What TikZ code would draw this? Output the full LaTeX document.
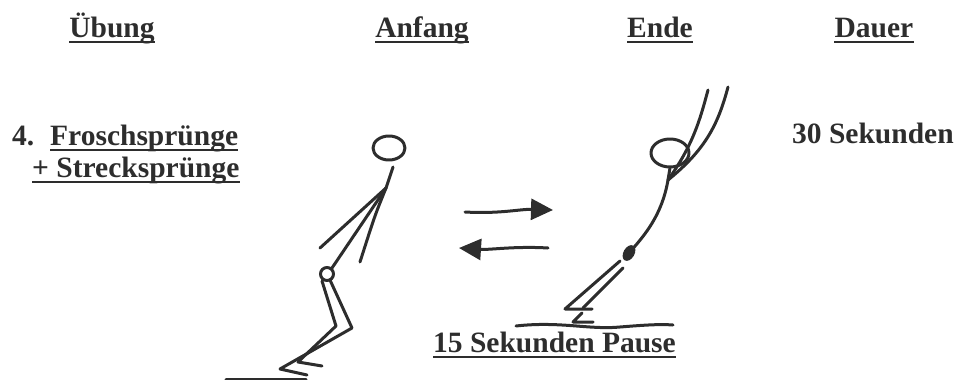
\documentclass[tikz,border=0pt]{standalone}
\usepackage{fontspec}
\setmainfont{Liberation Serif}
\usepackage{tikz}
\usetikzlibrary{arrows.meta, calc}
\definecolor{ink}{RGB}{45,45,45}

\begin{document}
\begin{tikzpicture}[x=1pt, y=-1pt,
  lbl/.style={font=\bfseries\fontsize{29.5}{34}\selectfont, text=ink, inner sep=0pt, anchor=base},
  uline/.style={draw=ink, line width=2pt},
  stroke/.style={draw=ink, line width=3pt, line cap=round, line join=round},
  move/.style={stroke, -{Triangle[length=22pt, width=21pt]}}
]
  \useasboundingbox (0,0) rectangle (959,380);

  % column titles
  \node[lbl] (uebung) at (112,37) {Übung};
  \node[lbl] (anfang) at (422,37) {Anfang};
  \node[lbl] (ende)   at (660,37) {Ende};
  \node[lbl] (dauer)  at (874,37) {Dauer};

  % exercise
  \node[lbl, anchor=base west] (nr)     at (12,145) {4.};
  \node[lbl, anchor=base west] (frosch) at (50,145) {Froschsprünge};
  \node[lbl, anchor=base west] (streck) at (32,177) {+ Strecksprünge};
  \node[lbl, anchor=base west] (zeit)   at (792,143) {30 Sekunden};
  \node[lbl, anchor=base west] (pause)  at (433,352) {15 Sekunden Pause};

  \foreach \n in {uebung,anfang,ende,dauer,frosch,streck,pause}
    \draw[uline] ([yshift=-5pt]\n.base west) -- ([yshift=-5pt]\n.base east);

  % squat position
  \coordinate (lshoulder) at (386,188);
  \coordinate (lhip) at (327,274);
  \draw[stroke] (389,148) ellipse [x radius=16, y radius=12];
  \draw[stroke] (393,167) -- (lshoulder);
  \draw[stroke] (lshoulder) -- (320,248);
  \draw[stroke] (lshoulder) .. controls (375,215) .. (360,262);
  \draw[stroke] (lshoulder) -- (332,268);
  \draw[stroke] (lhip) circle [radius=6.5];
  \draw[stroke] (322,281) -- (336,326) -- (298,362) -- (322,366);
  \draw[stroke] (330,280) -- (352,328) -- (280,369) -- (307,375);
  \draw[stroke] (226,379) -- (306,379);

  % arrows
  \coordinate (fwdA) at (465,212);
  \coordinate (fwdB) at (553,210);
  \coordinate (bckA) at (548,248);
  \coordinate (bckB) at (459,248);
  \draw[move] (fwdA) .. controls (500,214) and (520,209) .. (fwdB);
  \draw[move] (bckA) .. controls (515,246) and (490,250) .. (bckB);

  % stretched jump
  \coordinate (rshoulder) at (668,180);
  \coordinate (rhip) at (629,253);
  \draw[stroke] (670,153) ellipse [x radius=19, y radius=14];
  \draw[stroke] (708,90) .. controls (700,120) and (693,145) .. (rshoulder);
  \draw[stroke] (728,87) .. controls (718,125) and (705,150) .. (rshoulder);
  \draw[stroke] (670,168) -- (rshoulder);
  \draw[stroke] (rshoulder) .. controls (662,215) and (645,235) .. (rhip);
  \fill[ink, rotate around={-30:(rhip)}] (rhip) ellipse [x radius=5.5, y radius=8.5];
  \draw[stroke] (620,261) -- (565,309) -- (592,309);
  \draw[stroke] (623,268) -- (583,308);
  \draw[stroke] (582,313) -- (573,322) -- (593,322);
  \draw[stroke] (516,326) .. controls (560,321) and (590,330) .. (620,327)
                .. controls (645,325) and (660,324) .. (673,325);
\end{tikzpicture}
\end{document}
